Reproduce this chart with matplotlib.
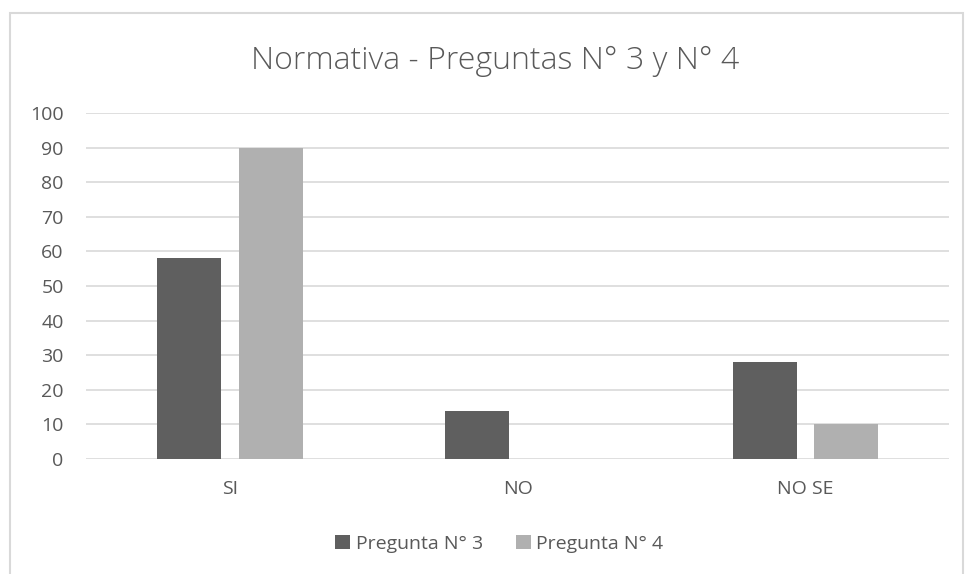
import matplotlib.pyplot as plt
import numpy as np
from matplotlib.patches import Rectangle

# data
categories = ['SI', 'NO', 'NO SE']
series_names = ['Pregunta N° 3', 'Pregunta N° 4']
pregunta3 = [58, 14, 28]
pregunta4 = [90, 0, 10]
yticks = list(range(0, 101, 10))

plt.rcParams['font.family'] = ['Open Sans', 'DejaVu Sans']
txt = '#595959'

fig = plt.figure(figsize=(9.68, 5.74), dpi=100)
ax = fig.add_axes([0.0888, 0.2003, 0.892, 0.603])

x = np.arange(len(categories))
w = 0.222
gap = 0.0625
ax.bar(x - (w + gap) / 2, pregunta3, w, color='#5f5f5f', label=series_names[0], zorder=3)
ax.bar(x + (w + gap) / 2, pregunta4, w, color='#b0b0b0', label=series_names[1], zorder=3)

ax.set_xlim(-0.5, 2.5)
ax.set_ylim(0, 100)
ax.set_yticks(yticks)
ax.set_xticks(x)
ax.set_xticklabels(categories)
ax.grid(axis='y', color='#d9d9d9', linewidth=1.2, zorder=0)
for s in ax.spines.values():
    s.set_visible(False)
ax.tick_params(axis='both', length=0, colors=txt, labelsize=14)
ax.tick_params(axis='y', pad=16)
ax.tick_params(axis='x', pad=15)

fig.text(0.512, 0.893, 'Normativa - Preguntas N° 3 y N° 4', ha='center', va='center',
         fontsize=23, color=txt, fontweight='light')

fig.legend(loc='center', bbox_to_anchor=(0.516, 0.052), ncol=2, frameon=False,
           fontsize=14, labelcolor=txt, handlelength=0.75, handleheight=0.75,
           handletextpad=0.3, columnspacing=1.7)

# outer chart border
fig.patches.append(Rectangle((10 / 968, -0.01), 953 / 968, 1 - 13 / 574 + 0.01,
                             transform=fig.transFigure, fill=False,
                             edgecolor='#d9d9d9', linewidth=1.5))

fig.savefig('out.png', dpi=100)
